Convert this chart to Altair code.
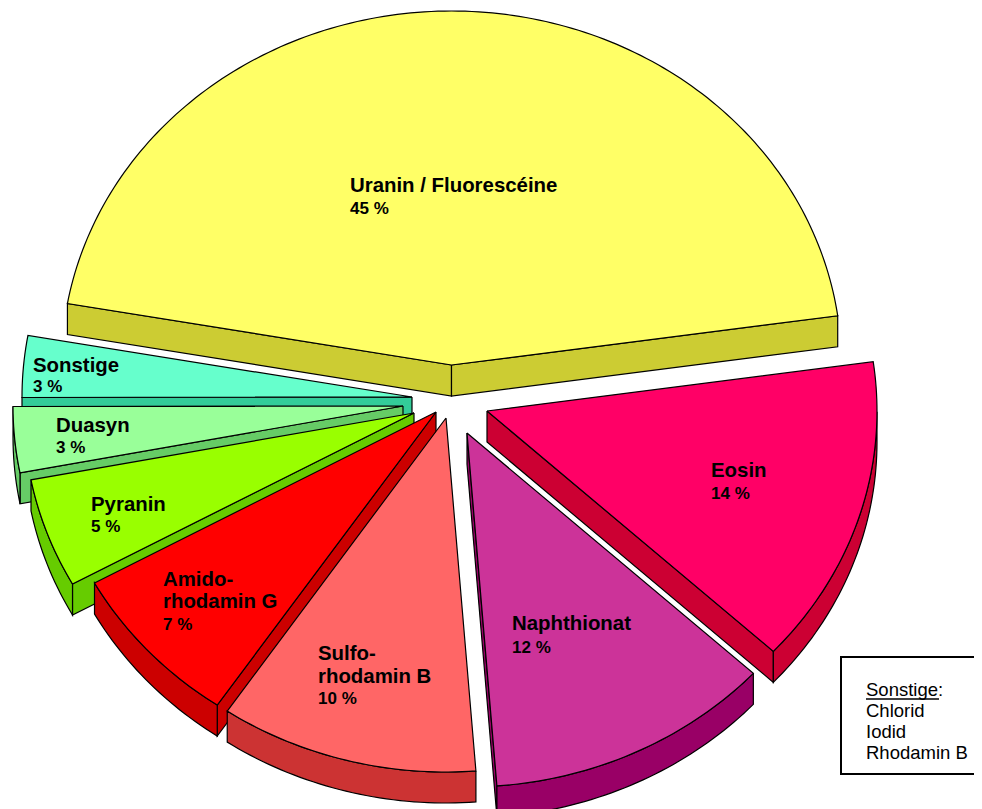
import math
import altair as alt
import pandas as pd

# Slices, in clockwise order starting from the large one
names = ["Uranin", "Eosin", "Naphthionat", "Sulforhodamin", "Amidorhodamin", "Pyranin", "Duasyn", "Sonstige"]
shares = [45, 14.1, 11.9, 10.7, 7.5, 5, 3, 2.8]
top_colours = ["#FFFF66", "#FF0066", "#CC3399", "#FF6666", "#FF0000", "#99FF00", "#99FF99", "#66FFCC"]
side_colours = ["#CCCC33", "#CC0033", "#990066", "#CC3333", "#CC0000", "#66CC00", "#66CC66", "#33CC99"]
apex_x = [451.5, 487, 467, 446, 436, 414, 403, 412]
apex_y = [365, 411, 433, 418, 412, 413, 406, 397]
draw_order = [0, 1, 2, 7, 6, 5, 4, 3]

RX, RY, DEPTH, START = 390, 354, 31, 170

label_text = ["Uranin / Fluorescéine", "45 %", "Eosin", "14 %", "Naphthionat", "12 %",
              "Sulfo-", "rhodamin B", "10 %", "Amido-", "rhodamin G", "7 %",
              "Pyranin", "5 %", "Duasyn", "3 %", "Sonstige", "3 %"]
label_x = [350, 350, 711, 711, 512, 512, 318, 318, 318, 163, 163, 163, 91, 91, 56, 56, 33, 33]
label_y = [186, 209, 471, 494, 624, 648, 654, 677, 699, 580, 602, 625, 505, 527, 426, 448, 366, 387]
label_size = [20.4, 17, 20.4, 17, 20.4, 17, 20.4, 20.4, 17, 20.4, 20.4, 17, 20.4, 17, 20.4, 17, 20.4, 17]

note_text = ["Sonstige:", "Chlorid", "Iodid", "Rhodamin B"]
note_y = [690, 711, 732, 753]
NOTE_X = 866

# Turn the shares into wedge outlines
total = sum(shares)
rows = []
pid = 0


def add_poly(pts, colour):
    global pid
    closed = pts + [pts[0]]
    for i, (x, y) in enumerate(closed):
        rows.append({"poly": f"p{pid:02d}", "i": i, "x": x, "y": y, "colour": colour})
    pid += 1


bounds = []
a = START
for s in shares:
    b = a - 360 * s / total
    bounds.append((a, b))
    a = b

for k in draw_order:
    a, b = bounds[k]
    cx, cy = apex_x[k], apex_y[k]

    def pt(t):
        r = math.radians(t)
        return (cx + RX * math.cos(r), cy - RY * math.sin(r))

    n = max(4, int(abs(a - b)))
    arc = [pt(a + (b - a) * j / n) for j in range(n + 1)]
    side = side_colours[k]
    # radial walls that face the viewer
    if math.cos(math.radians(a)) < 0:
        p = arc[0]
        add_poly([(cx, cy), p, (p[0], p[1] + DEPTH), (cx, cy + DEPTH)], side)
    if math.cos(math.radians(b)) > 0:
        p = arc[-1]
        add_poly([(cx, cy), p, (p[0], p[1] + DEPTH), (cx, cy + DEPTH)], side)
    # rim: the part of the arc on the lower half
    lower = [pt(a + (b - a) * j / n) for j in range(n + 1)
             if math.sin(math.radians(a + (b - a) * j / n)) <= 0.001]
    if len(lower) > 1:
        add_poly(lower + [(x, y + DEPTH) for x, y in reversed(lower)], side)
    add_poly([(cx, cy)] + arc, top_colours[k])

polys = pd.DataFrame(rows)
xs = alt.Scale(domain=[8, 974])
ys = alt.Scale(domain=[809, 8])

slices = alt.Chart(polys).mark_line(filled=True, stroke="black", strokeWidth=1.2, strokeJoin="miter", clip=False).encode(
    x=alt.X("x:Q", scale=xs, axis=None),
    y=alt.Y("y:Q", scale=ys, axis=None),
    fill=alt.Fill("colour:N", scale=None),
    detail="poly:N",
    order="i:Q",
)

labels = alt.Chart(pd.DataFrame({"t": label_text, "x": label_x, "y": label_y, "s": label_size})).mark_text(
    font="Liberation Sans", fontWeight="bold", align="left", baseline="middle", color="black"
).encode(
    x=alt.X("x:Q", scale=xs, axis=None),
    y=alt.Y("y:Q", scale=ys, axis=None),
    text="t:N",
    size=alt.Size("s:Q", scale=None, legend=None),
)

box = alt.Chart(pd.DataFrame({"x": [841], "x2": [995], "y": [657], "y2": [774]})).mark_rect(
    fill="white", stroke="black", strokeWidth=2
).encode(
    x=alt.X("x:Q", scale=xs, axis=None), x2="x2:Q",
    y=alt.Y("y:Q", scale=ys, axis=None), y2="y2:Q",
)

note = alt.Chart(pd.DataFrame({"t": note_text, "x": [NOTE_X] * 4, "y": note_y})).mark_text(
    font="Liberation Sans", fontSize=18.5, align="left", baseline="middle", color="black"
).encode(
    x=alt.X("x:Q", scale=xs, axis=None),
    y=alt.Y("y:Q", scale=ys, axis=None),
    text="t:N",
)

underline = alt.Chart(pd.DataFrame({"x": [866], "x2": [939], "y": [699]})).mark_rule(
    color="black", strokeWidth=1.5
).encode(
    x=alt.X("x:Q", scale=xs, axis=None), x2="x2:Q",
    y=alt.Y("y:Q", scale=ys, axis=None),
)

chart = alt.layer(slices, labels, box, note, underline).properties(
    width=966, height=801, padding=0, autosize=alt.AutoSizeParams(type="none"),
    background="white",
).configure_view(stroke=None)

chart.save("out.html", embed_options={"renderer": "svg", "actions": False})
